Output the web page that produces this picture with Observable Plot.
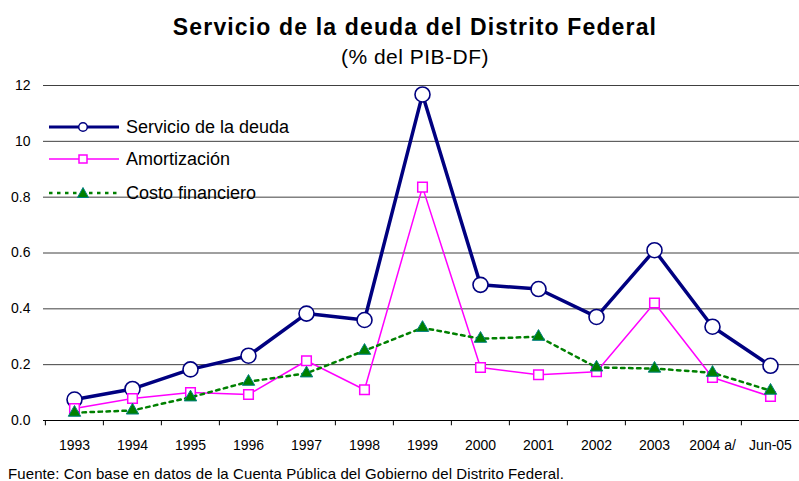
<!DOCTYPE html>
<html>
<head>
<meta charset="utf-8">
<script src="https://cdn.jsdelivr.net/npm/d3@7"></script>
<script src="https://cdn.jsdelivr.net/npm/@observablehq/plot@0.6"></script>
<style>
  html, body { margin: 0; padding: 0; background: #fff; }
  #wrap { position: relative; width: 799px; height: 481px; font-family: "Liberation Sans", Arial, sans-serif; color: #000; overflow: hidden; }
  #chart { position: absolute; left: 0; top: 0; }
  .abs { position: absolute; white-space: nowrap; }
  #title { left: 0; width: 830px; text-align: center; font-weight: bold; font-size: 23px; line-height: 23px; top: 16.3px; letter-spacing: 1.15px; }
  #subtitle { left: 0; width: 830px; text-align: center; font-size: 21px; line-height: 21px; top: 46.2px; letter-spacing: 0.5px; }
  #foot { left: 8px; font-size: 15px; line-height: 15px; top: 466px; letter-spacing: 0.1px; }
  .leg { position: absolute; left: 45px; height: 20px; display: flex; align-items: center; font-size: 18px; }
  .leg svg { margin-right: 5px; }
</style>
</head>
<body>
<div id="wrap">
  <div id="chart"></div>
  <div id="title" class="abs">Servicio de la deuda del Distrito Federal</div>
  <div id="subtitle" class="abs">(% del PIB-DF)</div>
  <div id="legend"></div>
  <div id="foot" class="abs">Fuente: Con base en datos de la Cuenta Pública del Gobierno del Distrito Federal.</div>
</div>
<script>
const categories = ["1993","1994","1995","1996","1997","1998","1999","2000","2001","2002","2003","2004 a/","Jun-05"];
const servicio     = [0.075,0.113,0.183,0.232,0.383,0.360,1.168,0.486,0.471,0.371,0.610,0.336,0.196];
const amortizacion = [0.043,0.079,0.100,0.093,0.214,0.110,0.836,0.190,0.164,0.175,0.421,0.154,0.086];
const costo        = [0.028,0.036,0.083,0.139,0.169,0.250,0.332,0.293,0.300,0.190,0.186,0.171,0.107];
const yTicks = [0, 0.2, 0.4, 0.6, 0.8, 1.0, 1.2];
const yTickLabels = ["0.0","0.2","0.4","0.6","0.8","10","12"];
const seriesNames = ["Servicio de la deuda","Amortización","Costo financiero"];

const rows = (vals) => categories.map((c, i) => ({cat: c, v: vals[i]}));
const S = rows(servicio), A = rows(amortizacion), C = rows(costo);

const navy = "#000080", magenta = "#FF00FF", green = "#008000", teal = "#008080";
const step = (800 - 43) / categories.length;

const chart = Plot.plot({
  width: 799,
  height: 481,
  marginLeft: 43,
  marginRight: 0,
  marginTop: 85,
  marginBottom: 61,
  style: {fontFamily: "'Liberation Sans', Arial, sans-serif", background: "#fff", overflow: "visible"},
  x: {type: "point", domain: categories, padding: 0.5, range: [43, 800]},
  y: {domain: [0, 1.2], range: [420, 85]},
  marks: [
    Plot.ruleY(yTicks.slice(1), {stroke: "#404040", strokeWidth: 1}),
    Plot.ruleY([0], {stroke: "#000", strokeWidth: 1}),
    Plot.ruleX(categories, {x: d => d, dx: -step / 2, y1: 0, y2: -0.019, stroke: "#000", strokeWidth: 1}),
    Plot.axisY({ticks: yTicks, tickFormat: (d, i) => yTickLabels[i], tickSize: 0, tickPadding: 13, fontSize: 14, label: null}),
    Plot.axisX({tickSize: 0, tickPadding: 20, fontSize: 14, label: null}),
    Plot.line(S, {x: "cat", y: "v", stroke: navy, strokeWidth: 3.5}),
    Plot.dot(S, {x: "cat", y: "v", r: 7.5, fill: "#fff", stroke: navy, strokeWidth: 1.6}),
    Plot.line(A, {x: "cat", y: "v", stroke: magenta, strokeWidth: 1.5}),
    Plot.dot(A, {x: "cat", y: "v", symbol: "square", r: 5.4, fill: "#fff", stroke: magenta, strokeWidth: 1.5}),
    Plot.line(C, {x: "cat", y: "v", stroke: green, strokeWidth: 2.5, strokeDasharray: "3.5,4.5"}),
    Plot.dot(C, {x: "cat", y: "v", symbol: "triangle", r: 4.6, fill: green, stroke: teal, strokeWidth: 1})
  ]
});
document.getElementById("chart").appendChild(chart);

// Legend
const legendY = [127, 159, 193];
const swatches = [
  `<svg width="76" height="20"><line x1="4" y1="10" x2="74" y2="10" stroke="${navy}" stroke-width="3"/><circle cx="38" cy="10" r="4.3" fill="#fff" stroke="${navy}" stroke-width="1.5"/></svg>`,
  `<svg width="76" height="20"><line x1="4" y1="10" x2="74" y2="10" stroke="${magenta}" stroke-width="1.5"/><rect x="34" y="6" width="8" height="8" fill="#fff" stroke="${magenta}" stroke-width="1.5"/></svg>`,
  `<svg width="76" height="20"><line x1="4" y1="10" x2="74" y2="10" stroke="${green}" stroke-width="2.5" stroke-dasharray="3.5,4.5"/><path d="M38,4.5 L43.5,14.5 L32.5,14.5 Z" fill="${green}" stroke="${teal}" stroke-width="1"/></svg>`
];
const legend = document.getElementById("legend");
seriesNames.forEach((name, i) => {
  const d = document.createElement("div");
  d.className = "leg";
  d.style.top = (legendY[i] - 10) + "px";
  d.innerHTML = swatches[i] + `<span>${name}</span>`;
  legend.appendChild(d);
});
</script>
</body>
</html>
